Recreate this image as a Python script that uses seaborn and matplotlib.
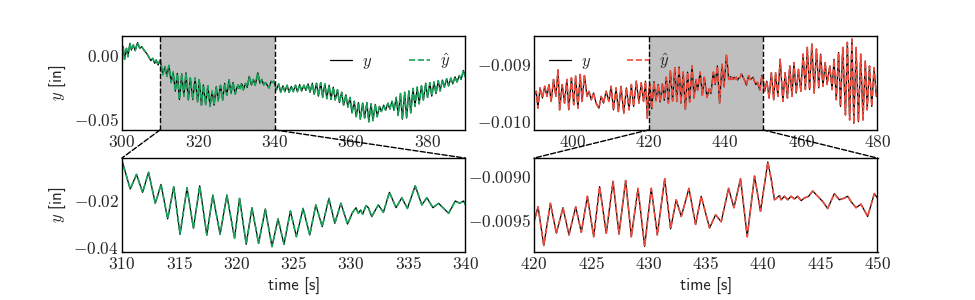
import pandas as pd
import seaborn as sns
import matplotlib.pyplot as plt
from matplotlib.patches import ConnectionPatch
from matplotlib.ticker import FuncFormatter, MultipleLocator

sns.set_style("white")
plt.rcParams["mathtext.fontset"] = "cm"
plt.rcParams["xtick.direction"] = "in"
plt.rcParams["ytick.direction"] = "in"

## Data (peaks and troughs)
# --> left signal, 300-390 s
t_left = [
    300.0, 300.35, 300.7, 301.2, 301.6, 302.1, 302.5, 303.0, 303.5, 304.1,
    304.7, 305.2, 305.9, 306.5, 307.0, 307.6, 308.1, 308.6, 309.0, 309.5,
    309.8, 310.06, 310.73, 311.28, 311.81, 312.33, 312.92, 313.42, 314.0, 314.53,
    315.08, 315.69, 316.25, 316.8, 317.42, 317.94, 318.58, 319.17, 319.84, 320.28,
    320.86, 321.36, 321.94, 322.53, 323.11, 323.64, 324.16, 324.72, 325.24, 325.83,
    326.41, 326.94, 327.5, 328.08, 328.6, 329.13, 329.71, 330.15, 330.45, 330.65,
    330.85, 331.03, 331.32, 331.53, 331.82, 332.4, 332.84, 333.37, 333.95, 334.45,
    334.94, 335.62, 336.2, 336.64, 337.17, 337.66, 338.54, 339.12, 339.5, 339.85,
    340.5, 341.1, 341.6, 342.2, 342.7, 343.3, 343.8, 344.4, 344.9, 345.5,
    346.0, 346.6, 347.1, 347.7, 348.2, 348.8, 349.3, 349.9, 350.4, 351.0,
    351.5, 352.1, 352.6, 353.2, 353.7, 354.3, 354.8, 355.4, 355.9, 356.5,
    357.0, 357.6, 358.1, 358.7, 359.2, 359.8, 360.3, 360.9, 361.4, 362.0,
    362.5, 363.1, 363.6, 364.2, 364.7, 365.3, 365.8, 366.4, 366.9, 367.5,
    368.0, 368.6, 369.1, 369.7, 370.2, 370.8, 371.3, 371.9, 372.4, 373.0,
    373.5, 374.1, 374.6, 375.2, 375.7, 376.3, 376.8, 377.4, 377.9, 378.5,
    379.0, 379.6, 380.1, 380.7, 381.2, 381.8, 382.3, 382.9, 383.4, 384.0,
    384.5, 385.1, 385.6, 386.2, 386.7, 387.3, 387.8, 388.4, 388.9, 389.5,
    390.0,
]
y_left = [
    0.0013, 0.0065, -0.0034, 0.0052, -0.0013, 0.0091, 0.0039, 0.0078, 0.0034, 0.0096,
    0.0052, 0.0065, 0.0034, 0.0013, -0.0013, -0.0044, -0.0026, -0.0065, -0.0039, -0.0078,
    -0.0052, -0.0039, -0.0153, -0.0090, -0.0167, -0.0081, -0.0214, -0.0133, -0.0281, -0.0143,
    -0.0347, -0.0147, -0.0321, -0.0139, -0.0350, -0.0179, -0.0347, -0.0179, -0.0364, -0.0193,
    -0.0390, -0.0233, -0.0386, -0.0239, -0.0400, -0.0281, -0.0390, -0.0247, -0.0357, -0.0236,
    -0.0350, -0.0221, -0.0314, -0.0193, -0.0300, -0.0214, -0.0303, -0.0253, -0.0233, -0.0257,
    -0.0243, -0.0261, -0.0224, -0.0233, -0.0271, -0.0221, -0.0253, -0.0167, -0.0233, -0.0190,
    -0.0236, -0.0139, -0.0221, -0.0190, -0.0233, -0.0214, -0.0257, -0.0204, -0.0214, -0.0204,
    -0.0270, -0.0225, -0.0290, -0.0240, -0.0285, -0.0235, -0.0290, -0.0245, -0.0285, -0.0235,
    -0.0285, -0.0230, -0.0280, -0.0235, -0.0275, -0.0225, -0.0290, -0.0220, -0.0305, -0.0220,
    -0.0320, -0.0215, -0.0330, -0.0225, -0.0340, -0.0235, -0.0345, -0.0250, -0.0350, -0.0270,
    -0.0370, -0.0290, -0.0390, -0.0310, -0.0405, -0.0330, -0.0450, -0.0360, -0.0480, -0.0370,
    -0.0500, -0.0375, -0.0490, -0.0370, -0.0520, -0.0380, -0.0510, -0.0385, -0.0480, -0.0400,
    -0.0440, -0.0390, -0.0430, -0.0375, -0.0420, -0.0360, -0.0430, -0.0330, -0.0470, -0.0300,
    -0.0500, -0.0290, -0.0490, -0.0280, -0.0450, -0.0260, -0.0400, -0.0250, -0.0380, -0.0240,
    -0.0350, -0.0220, -0.0330, -0.0215, -0.0320, -0.0210, -0.0300, -0.0200, -0.0280, -0.0195,
    -0.0250, -0.0185, -0.0240, -0.0180, -0.0225, -0.0170, -0.0210, -0.0160, -0.0190, -0.0120,
    -0.0170,
]
# prediction overlaps the measurement at this resolution
yhat_left = list(y_left)

# --> right signal, 390-480 s
t_right = [
    390.2, 390.6, 391.0, 391.6, 392.2, 392.8, 393.4, 393.9, 394.5, 395.1,
    395.7, 396.3, 396.7, 397.4, 398.0, 398.6, 399.1, 399.8, 400.4, 400.9,
    401.5, 402.1, 402.6, 403.2, 403.9, 404.4, 405.0, 405.6, 406.3, 407.0,
    407.6, 408.2, 408.9, 409.6, 410.2, 410.8, 411.5, 412.1, 412.8, 413.5,
    414.2, 414.9, 415.5, 416.1, 416.8, 417.5, 418.1, 418.7, 419.2, 419.7,
    420.0, 420.35, 420.85, 421.43, 421.95, 422.53, 423.05, 423.64, 424.13, 424.66,
    425.21, 425.73, 426.31, 426.9, 427.42, 428.0, 428.5, 429.08, 429.66, 430.24,
    430.77, 431.41, 431.93, 432.42, 432.86, 433.53, 434.11, 434.6, 435.33, 435.86,
    436.35, 436.99, 437.46, 438.04, 438.62, 439.26, 439.78, 440.42, 440.71, 441.0,
    441.2, 441.44, 441.58, 441.87, 442.16, 442.45, 442.74, 443.03, 443.33, 443.62,
    443.99, 444.34, 444.78, 445.22, 445.65, 446.23, 446.67, 447.11, 447.4, 447.69,
    448.12, 448.56, 449.14, 449.72, 450.0, 450.4, 451.0, 451.6, 452.2, 452.8,
    453.3, 453.9, 454.5, 455.2, 455.8, 456.4, 457.0, 457.6, 458.1, 458.7,
    459.3, 459.9, 460.5, 461.1, 461.6, 462.2, 462.8, 463.4, 464.0, 464.6,
    465.1, 465.7, 466.3, 466.8, 467.5, 468.1, 468.6, 469.2, 469.8, 470.3,
    470.9, 471.6, 472.1, 472.7, 473.3, 473.8, 474.4, 475.0, 475.6, 476.2,
    476.8, 477.3, 477.9, 478.5, 479.1, 479.7,
]
y_right = [
    -0.00954, -0.00948, -0.00978, -0.00942, -0.00960, -0.00939, -0.00957, -0.00936, -0.00966, -0.00927,
    -0.00957, -0.00910, -0.00981, -0.00936, -0.00969, -0.00927, -0.00981, -0.00924, -0.00972, -0.00921,
    -0.00978, -0.00918, -0.00966, -0.00920, -0.00957, -0.00948, -0.00963, -0.00951, -0.00970, -0.00978,
    -0.00957, -0.00969, -0.00948, -0.00966, -0.00939, -0.00981, -0.00942, -0.00984, -0.00939, -0.00987,
    -0.00942, -0.00981, -0.00936, -0.00975, -0.00930, -0.00969, -0.00933, -0.00966, -0.00930, -0.00996,
    -0.00952, -0.00935, -0.00979, -0.00931, -0.00965, -0.00936, -0.00967, -0.00935, -0.00964, -0.00923,
    -0.00969, -0.00912, -0.00965, -0.00906, -0.00966, -0.00905, -0.00969, -0.00914, -0.00980, -0.00914,
    -0.00967, -0.00903, -0.00960, -0.00927, -0.00946, -0.00914, -0.00955, -0.00923, -0.00959, -0.00944,
    -0.00952, -0.00914, -0.00936, -0.00903, -0.00969, -0.00900, -0.00940, -0.00884, -0.00903, -0.00927,
    -0.00925, -0.00922, -0.00927, -0.00923, -0.00927, -0.00923, -0.00926, -0.00923, -0.00928, -0.00925,
    -0.00923, -0.00917, -0.00923, -0.00929, -0.00937, -0.00920, -0.00927, -0.00925, -0.00923, -0.00929,
    -0.00936, -0.00932, -0.00946, -0.00920, -0.00925, -0.00948, -0.00930, -0.00960, -0.00915, -0.00963,
    -0.00915, -0.00957, -0.00891, -0.00966, -0.00915, -0.00960, -0.00903, -0.00957, -0.00897, -0.00951,
    -0.00909, -0.00948, -0.00882, -0.00945, -0.00870, -0.00945, -0.00864, -0.00951, -0.00873, -0.00942,
    -0.00882, -0.00939, -0.00897, -0.00936, -0.00903, -0.00945, -0.00891, -0.00963, -0.00879, -0.00975,
    -0.00870, -0.00990, -0.00861, -0.00999, -0.00855, -0.01005, -0.00870, -0.01002, -0.00882, -0.00999,
    -0.00894, -0.00981, -0.00903, -0.00975, -0.00906, -0.00957,
]
yhat_right = list(y_right)

df_left = pd.DataFrame({"time": t_left, "y": y_left, "yhat": yhat_left})
df_right = pd.DataFrame({"time": t_right, "y": y_right, "yhat": yhat_right})

GREEN = "#1aa35a"
RED = "#ee4c3c"
SANS = ["cmss10", "DejaVu Sans"]

## Figure
fig, axes = plt.subplots(2, 2, figsize=(9.75, 3), dpi=100)
fig.subplots_adjust(left=0.125, right=0.9, top=0.88, bottom=0.16, hspace=0.3, wspace=0.2)


def draw(ax, df, color, legend):
    sns.lineplot(data=df, x="time", y="y", ax=ax, color="black", linewidth=0.9,
                 label=r"$y$" if legend else None, sort=False, estimator=None)
    sns.lineplot(data=df, x="time", y="yhat", ax=ax, color=color, linewidth=1.2,
                 linestyle="--", label=r"$\hat{y}$" if legend else None,
                 sort=False, estimator=None)
    ax.set_xlabel("")
    ax.set_ylabel("")
    for side in ["top", "right", "left", "bottom"]:
        ax.spines[side].set_visible(True)
        ax.spines[side].set_color("black")
        ax.spines[side].set_linewidth(1.0)
    ax.tick_params(labelsize=12.5, length=3.5, width=0.8, color="black", pad=2)


def fmt(decimals):
    return FuncFormatter(lambda v, p: "$%.*f$" % (decimals, v))


xfmt = FuncFormatter(lambda v, p: "$%g$" % v)

# --> top-left
ax = axes[0, 0]
ax.axvspan(310, 340, color="#bfbfbf", zorder=0, lw=0)
draw(ax, df_left, GREEN, True)
ax.axvline(310, color="black", ls="--", lw=1.0)
ax.axvline(340, color="black", ls="--", lw=1.0)
ax.set_xlim(300, 390)
ax.set_ylim(-0.0583, 0.0148)
ax.set_yticks([-0.05, 0.0])
ax.yaxis.set_major_formatter(fmt(2))
ax.xaxis.set_major_locator(MultipleLocator(20))
ax.xaxis.set_major_formatter(xfmt)
ax.set_ylabel(r"$y$ [in]", fontsize=12, family=SANS)
ax.legend(loc="upper right", ncol=2, frameon=False, fontsize=12,
          handlelength=1.3, handletextpad=0.6, columnspacing=2.2)

# --> top-right
ax = axes[0, 1]
ax.axvspan(420, 450, color="#bfbfbf", zorder=0, lw=0)
draw(ax, df_right, RED, True)
ax.axvline(420, color="black", ls="--", lw=1.0)
ax.axvline(450, color="black", ls="--", lw=1.0)
ax.set_xlim(390, 480)
ax.set_ylim(-0.010167, -0.008497)
ax.set_yticks([-0.010, -0.009])
ax.yaxis.set_major_formatter(fmt(3))
ax.xaxis.set_major_locator(MultipleLocator(20))
ax.xaxis.set_major_formatter(xfmt)
ax.legend(loc="upper left", ncol=2, frameon=False, fontsize=12,
          handlelength=1.3, handletextpad=0.6, columnspacing=2.2)

# --> bottom-left
ax = axes[1, 0]
draw(ax, df_left, GREEN, False)
ax.set_xlim(310, 340)
ax.set_ylim(-0.0423, -0.002)
ax.set_yticks([-0.04, -0.02])
ax.yaxis.set_major_formatter(fmt(2))
ax.xaxis.set_major_locator(MultipleLocator(5))
ax.xaxis.set_major_formatter(xfmt)
ax.set_ylabel(r"$y$ [in]", fontsize=12, family=SANS)
ax.set_xlabel("time [s]", fontsize=12, family=SANS)

# --> bottom-right
ax = axes[1, 1]
draw(ax, df_right, RED, False)
ax.set_xlim(420, 450)
ax.set_ylim(-0.009864, -0.0087955)
ax.set_yticks([-0.0095, -0.0090])
ax.yaxis.set_major_formatter(fmt(4))
ax.xaxis.set_major_locator(MultipleLocator(5))
ax.xaxis.set_major_formatter(xfmt)
ax.set_xlabel("time [s]", fontsize=12, family=SANS)

# zoom connectors
for top, bot, (x0, x1) in [(axes[0, 0], axes[1, 0], (310, 340)),
                           (axes[0, 1], axes[1, 1], (420, 450))]:
    y0 = top.get_ylim()[0]
    for x, corner in [(x0, (0, 1)), (x1, (1, 1))]:
        con = ConnectionPatch(xyA=(x, y0), coordsA=top.transData,
                              xyB=corner, coordsB=bot.transAxes,
                              color="black", ls="--", lw=1.0)
        fig.add_artist(con)

plt.savefig("out.png", dpi=100)
